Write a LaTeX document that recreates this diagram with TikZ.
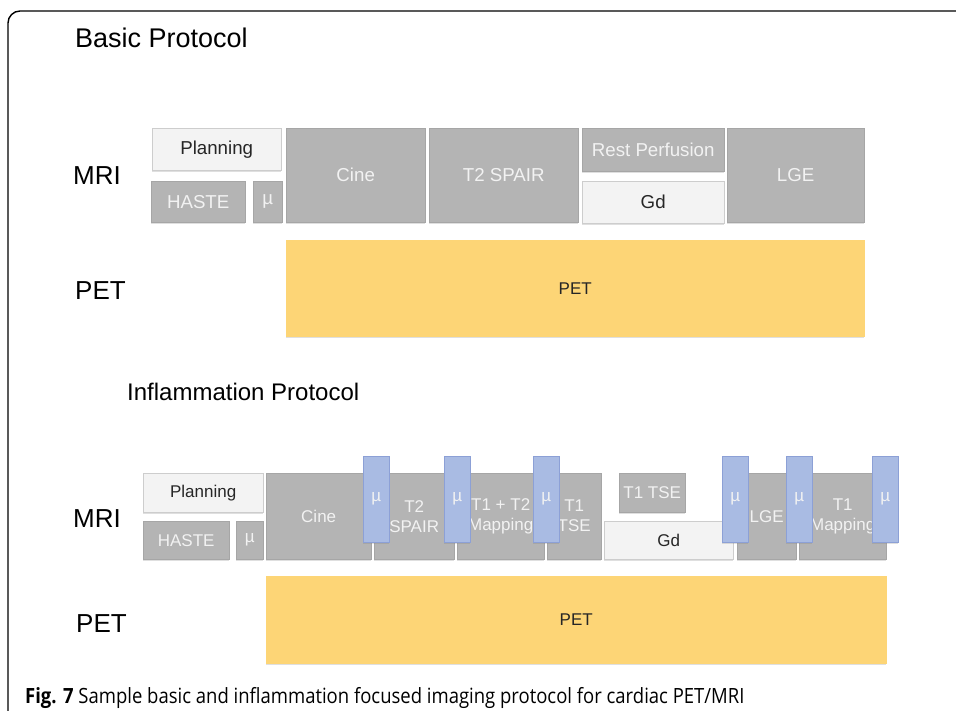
\documentclass[tikz,border=0pt]{standalone}
\usepackage{fontspec}
\setmainfont{Liberation Sans}
\newfontfamily\capfont[FakeStretch=0.88]{Open Sans}
\usetikzlibrary{shadows}

\definecolor{boxgray}{RGB}{180,180,180}
\definecolor{boxgrayline}{RGB}{166,166,166}
\definecolor{boxtext}{RGB}{242,242,242}
\definecolor{boxlight}{RGB}{243,243,243}
\definecolor{boxlightline}{RGB}{205,205,205}
\definecolor{mublue}{RGB}{169,187,227}
\definecolor{mublueline}{RGB}{140,160,214}
\definecolor{petyellow}{RGB}{253,213,118}

\tikzset{
    sz/.style 2 args={minimum width=#1pt, minimum height=#2pt},
    blk/.style={draw, anchor=north west, inner sep=0pt, align=center,
        font=\fontsize{17}{20}\selectfont,
        drop shadow={shadow xshift=0pt, shadow yshift=-1.5pt, opacity=0.25}},
    grayblk/.style={blk, fill=boxgray, draw=boxgrayline, text=boxtext},
    lightblk/.style={blk, fill=boxlight, draw=boxlightline, text=black!85},
    mublk/.style={blk, fill=mublue, draw=mublueline, text=boxtext},
    petblk/.style={blk, fill=petyellow, draw=petyellow, text=black!85},
    big/.style={font=\fontsize{18.7}{22}\selectfont},
    lbl/.style={anchor=base west, inner sep=0pt, font=\fontsize{26}{30}\selectfont},
}

\begin{document}
\begin{tikzpicture}[x=1pt, y=-1pt]
    \useasboundingbox (0,0) rectangle (956,711);
    % frame
    \draw[line width=1.4pt, rounded corners=12pt] (8,712) -- (8,11) -- (957,11);

    % basic protocol
    \node[lbl, font=\fontsize{27}{30}\selectfont] (bTitle) at (75,48) {Basic Protocol};
    \node[lbl] (bMRI) at (73,185) {MRI};
    \node[lbl] (bPETl) at (75,300) {PET};

    \node[lightblk, big, sz={129}{42}] (bPlan) at (152,128) {Planning};
    \node[grayblk, big, sz={94}{41}] (bHaste) at (151,181) {HASTE};
    \node[grayblk, big, sz={29}{41}] (bMu) at (253,181) {µ};
    \node[grayblk, big, sz={139}{94}] (bCine) at (286,128) {Cine};
    \node[grayblk, big, sz={149}{94}] (bSpair) at (429,128) {T2 SPAIR};
    \node[grayblk, big, sz={142}{43}] (bRest) at (582,128) {Rest Perfusion};
    \node[lightblk, big, sz={142}{42}] (bGd) at (582,181) {Gd};
    \node[grayblk, big, sz={137}{94}] (bLGE) at (727,128) {LGE};
    \node[petblk, sz={578}{96}] (bPET) at (286,240) {PET};

    % inflammation protocol
    \node[lbl, font=\fontsize{24}{28}\selectfont] (iTitle) at (127,400) {Inflammation Protocol};
    \node[lbl] (iMRI) at (73,527) {MRI};
    \node[lbl] (iPETl) at (76,632) {PET};

    \node[lightblk, sz={120}{39}] (iPlan) at (143,473) {Planning};
    \node[grayblk, sz={86}{38}] (iHaste) at (143,521) {HASTE};
    \node[grayblk, sz={27}{38}] (iMu) at (236,521) {µ};
    \node[grayblk, sz={105}{86}] (iCine) at (266,473) {Cine};
    \node[grayblk, sz={80}{86}] (iSpair) at (374,473) {T2\\SPAIR};
    \node[grayblk, sz={87}{86}] (iMap) at (457,473) {T1 + T2\\Mapping};
    \node[grayblk, sz={54}{86}] (iTSE) at (547,473) {T1\\TSE};
    \node[grayblk, sz={66}{39}] (iTSEtop) at (619,473) {T1 TSE};
    \node[lightblk, sz={129}{38}] (iGd) at (604,521) {Gd};
    \node[grayblk, sz={59}{86}] (iLGE) at (737,473) {LGE};
    \node[grayblk, sz={87}{86}] (iT1Map) at (799,473) {T1\\Mapping};
    % mu scans on top
    \foreach \x [count=\i] in {363,444,533,722,786,872}
        \node[mublk, sz={26}{86}] (iMuB\i) at (\x,456) {µ};
    \node[petblk, sz={620}{87}] (iPET) at (266,576) {PET};

    % caption
    \node[anchor=base west, inner sep=0pt, font=\capfont\fontsize{21}{24}\selectfont] (cap) at (25,703)
        {\textbf{Fig. 7} Sample basic and inflammation focused imaging protocol for cardiac PET/MRI};
\end{tikzpicture}
\end{document}
